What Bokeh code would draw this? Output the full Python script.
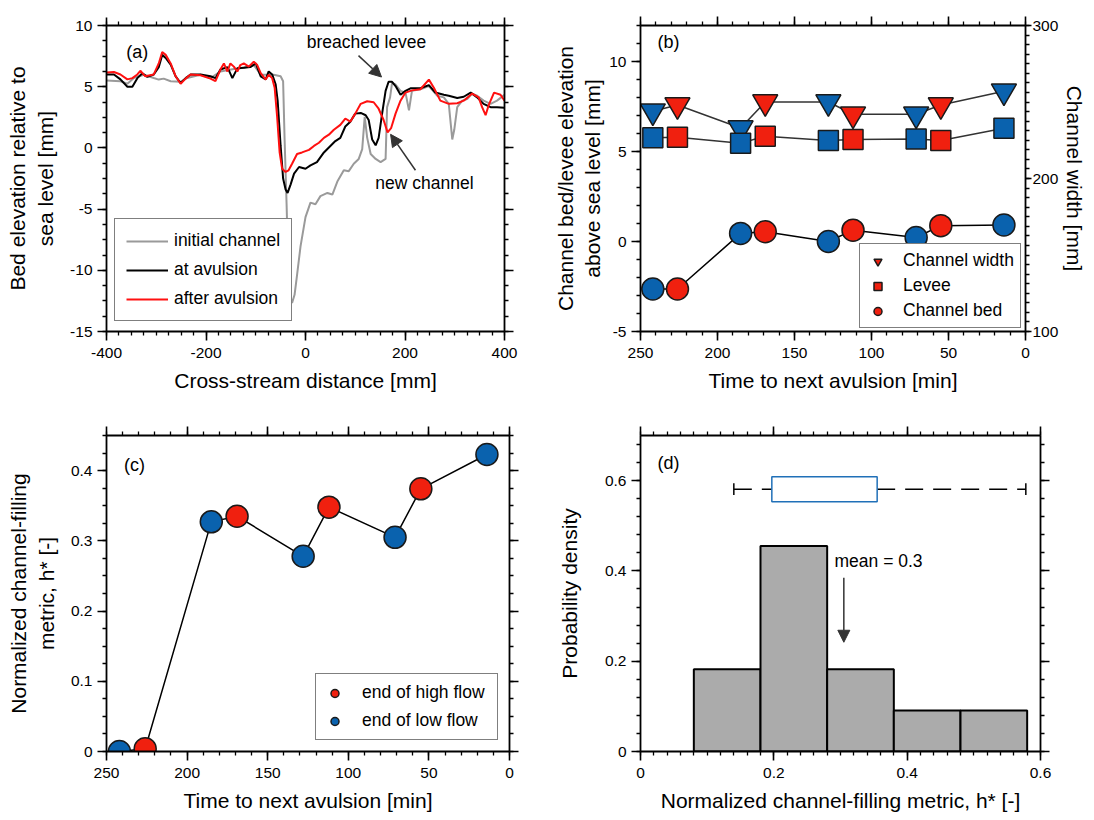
from bokeh.plotting import figure
from bokeh.models import (Range1d, LinearAxis, SingleIntervalTicker, Label, Arrow, NormalHead,
                          Legend, LegendItem)
from bokeh.layouts import column, row
from bokeh.embed import file_html
from bokeh.resources import INLINE

FONT = "Liberation Sans"

# ---------------- data: panel (a) cross-stream profiles ----------------
init_x = [-400, -372, -358, -345, -325, -305, -295, -285, -271, -251, -238, -211, -191, -171, -144,
          -124, -104, -90, -77, -64, -50, -45, -42, -38, -35, -31, -27, -22, -17, -10, 0, 10, 20,
          30, 44, 54, 64, 77, 87, 97, 107, 114, 119, 124, 131, 141, 151, 161, 164, 170, 174, 181,
          191, 201, 208, 214, 231, 248, 265, 278, 288, 295, 299, 305, 315, 325, 335, 345, 358, 372,
          385, 400]
init_y = [5.5, 5.45, 5.24, 5.71, 5.98, 5.71, 5.58, 5.66, 5.45, 5.4, 5.71, 5.98, 5.71, 6.24, 6.45,
          6.55, 6.77, 5.98, 5.98, 5.98, 5.85, 5.45, 0.69, -4.6, -9.37, -12.0, -12.67, -12.0, -10.4,
          -8.04, -5.66, -4.47, -4.6, -3.94, -3.68, -3.81, -2.75, -1.83, -1.9, -1.3, -0.9, -0.1,
          2.54, 0.82, -0.5, -0.9, -1.16, -0.9, 3.33, 4.13, 5.32, 5.18, 4.66, 4.52, 3.07, 4.66,
          4.79, 5.05, 4.26, 4.13, 3.6, 0.69, 1.48, 3.33, 3.86, 3.99, 4.44, 4.26, 3.86, 3.6, 3.86,
          4.34]

at_x = [-400, -385, -372, -358, -348, -338, -328, -318, -305, -295, -288, -281, -271, -261, -251,
        -241, -231, -211, -191, -181, -171, -157, -147, -137, -124, -111, -100, -90, -80, -74,
        -67, -60, -56, -50, -45, -40, -36, -30, -23, -13, 0, 10, 23, 37, 50, 60, 70, 80, 90, 100,
        111, 121, 127, 134, 141, 147, 154, 161, 167, 174, 181, 191, 201, 211, 231, 248, 261, 278,
        288, 305, 318, 332, 345, 358, 372, 385, 400]
at_y = [6.0, 6.0, 5.6, 5.0, 5.0, 5.7, 6.1, 5.8, 6.0, 6.6, 7.6, 7.35, 6.8, 5.85, 5.3, 5.7, 6.0, 6.0,
        5.85, 5.7, 6.4, 6.6, 5.7, 6.5, 6.55, 6.6, 6.9, 5.85, 5.6, 6.25, 6.0, 5.2, 3.86, 0.16, -2.5,
        -3.4, -3.68, -3.0, -2.1, -1.56, -1.7, -1.43, -1.16, -0.37, 0.16, 0.56, 0.82, 1.75, 2.14,
        2.8, 2.86, 2.67, 2.28, 0.69, 0.21, 0.82, 2.8, 4.66, 5.4, 5.4, 5.05, 4.34, 4.66, 4.87,
        4.87, 5.13, 4.52, 4.34, 4.26, 4.07, 4.18, 4.52, 4.13, 3.6, 3.33, 3.33, 3.28]

after_x = [-400, -385, -372, -358, -348, -338, -332, -322, -305, -295, -288, -281, -271, -261,
           -251, -241, -231, -211, -191, -181, -171, -164, -157, -151, -144, -137, -131, -124,
           -114, -104, -97, -90, -80, -74, -67, -62, -57, -52, -47, -40, -34, -27, -17, -7, 7,
           17, 27, 37, 47, 57, 70, 80, 90, 100, 111, 124, 137, 147, 157, 165, 172, 181, 191, 201,
           214, 231, 248, 258, 271, 288, 305, 318, 335, 348, 355, 362, 368, 379, 392, 400]
after_y = [6.16, 6.2, 6.0, 5.6, 5.7, 6.0, 6.3, 5.85, 6.0, 6.9, 7.83, 7.6, 6.9, 5.85, 5.24, 5.66,
           6.0, 5.93, 5.66, 5.45, 6.4, 6.9, 6.24, 6.9, 6.64, 6.24, 6.77, 6.9, 6.64, 7.04, 6.77,
           6.11, 5.58, 5.98, 5.7, 4.92, 2.54, -0.37, -1.7, -1.96, -1.83, -1.3, -0.5, -0.37,
           -0.16, 0.16, 0.42, 0.82, 1.08, 1.48, 1.88, 2.4, 2.14, 2.8, 3.6, 3.81, 3.73, 3.2, 2.28,
           1.27, 1.61, 2.8, 3.86, 4.52, 4.7, 4.79, 5.58, 4.92, 3.86, 3.6, 3.65, 3.86, 4.44, 4.13,
           3.33, 2.67, 3.47, 4.52, 4.34, 3.86]

# ---------------- data: panels (b), (c) ----------------
time_to_avulsion = [242, 226, 185, 169, 128, 112, 71, 55, 14]
flow_state = ["low", "high", "low", "high", "low", "high", "low", "high", "low"]
channel_width = [244, 248, 233, 250, 250, 242, 242, 248, 257]
levee_elev = [5.76, 5.79, 5.46, 5.85, 5.61, 5.67, 5.70, 5.61, 6.29]
bed_elev = [-2.64, -2.64, 0.45, 0.54, 0.00, 0.63, 0.22, 0.88, 0.92]
h_star = [0.0, 0.004, 0.327, 0.335, 0.278, 0.348, 0.305, 0.374, 0.423]

# ---------------- data: panel (d) ----------------
bin_edges = [0.08, 0.18, 0.28, 0.38, 0.48, 0.58]
density = [0.182, 0.455, 0.182, 0.091, 0.091]
whisker_low, q1, q3, whisker_high = 0.14, 0.197, 0.355, 0.578
h_mean = 0.3

RED = "#f0200f"
BLUE = "#0a62ae"
EDGE = "#1a1a1a"


def subset(vals, state):
    return [v for v, s in zip(vals, flow_state) if s == state]


def style_axis(ax, interval, minor, labels=True, tick_out=9, label=None, standoff=10,
               label_standoff=5, overrides=None):
    ax.ticker = SingleIntervalTicker(interval=interval, num_minor_ticks=minor)
    ax.axis_line_width = 1.8
    ax.axis_line_color = "black"
    ax.major_tick_in = 0
    ax.major_tick_out = tick_out
    ax.minor_tick_in = 0
    ax.minor_tick_out = 4
    ax.major_tick_line_width = 1.6
    ax.minor_tick_line_width = 1.3
    ax.major_tick_line_color = "black"
    ax.minor_tick_line_color = "black"
    ax.major_label_text_font = FONT
    ax.major_label_text_font_size = "15.5px"
    if labels:
        ax.major_label_text_color = "black"
        ax.major_label_standoff = label_standoff
    else:
        ax.major_label_text_color = None
        ax.major_label_standoff = 0
    ax.axis_label_text_font = FONT
    ax.axis_label_text_font_size = "21px"
    ax.axis_label_text_font_style = "normal"
    ax.axis_label_text_color = "black"
    ax.axis_label_standoff = standoff
    if label is not None:
        ax.axis_label = label
    if overrides:
        ax.major_label_overrides = overrides
    return ax


def make_fig(w, h, bl, br, bt, bb, xr, yr):
    p = figure(width=w, height=h, x_range=xr, y_range=yr, output_backend="svg",
               toolbar_location=None, min_border_left=bl, min_border_right=br,
               min_border_top=bt, min_border_bottom=bb, x_axis_location=None,
               y_axis_location=None)
    p.outline_line_color = None
    p.background_fill_color = "white"
    p.border_fill_color = "white"
    for g in p.grid:
        g.visible = False
    return p


def txt(p, x, y, text, align="center", size="17.5px"):
    p.add_layout(Label(x=x, y=y, text=text, text_align=align, text_baseline="middle",
                       text_font=FONT, text_font_size=size, text_color="black"))


def arrow(p, x0, y0, x1, y1):
    p.add_layout(Arrow(end=NormalHead(size=12, fill_color="#333333", line_color="#333333"),
                       x_start=x0, y_start=y0, x_end=x1, y_end=y1,
                       line_color="#333333", line_width=1.5))


def legend(p, items, loc, **kw):
    lg = Legend(items=items, location=loc, margin=0, border_line_color="black",
                border_line_width=1.5, background_fill_color="white", background_fill_alpha=1,
                label_text_font=FONT, label_text_font_size="17.5px", label_text_color="black",
                **kw)
    p.add_layout(lg)


# ================= panel (a) =================
pa = make_fig(535, 410, 106, 31, 16, 79, Range1d(-400, 400), Range1d(-15, 10))
pa.add_layout(style_axis(LinearAxis(), 200, 8, label="Cross-stream distance [mm]", standoff=8,
                         label_standoff=7, overrides={-400: "-400", -200: "-200"}), "below")
pa.add_layout(style_axis(LinearAxis(), 200, 8, labels=False, tick_out=8), "above")
pa.add_layout(style_axis(LinearAxis(), 5, 4, label="Bed elevation relative to\nsea level [mm]",
                         overrides={-5: "-5", -10: "-10", -15: "-15"}), "left")
pa.add_layout(style_axis(LinearAxis(), 5, 4, labels=False), "right")

r_init = pa.line(init_x, init_y, line_color="#9a9a9a", line_width=2)
r_at = pa.line(at_x, at_y, line_color="black", line_width=2)
r_after = pa.line(after_x, after_y, line_color="#ff1010", line_width=2)

legend(pa, [LegendItem(label="initial channel", renderers=[r_init]),
            LegendItem(label="at avulsion", renderers=[r_at]),
            LegendItem(label="after avulsion", renderers=[r_after])],
       (8, 10), padding=11, spacing=8, glyph_width=42, glyph_height=20, label_height=20,
       label_standoff=6)

txt(pa, -338, 7.86, "(a)", size="18px")
txt(pa, 122.6, 8.65, "breached levee")
arrow(pa, 106.5, 7.54, 152.8, 5.79)
txt(pa, 239, -2.86, "new channel")
arrow(pa, 221, -1.83, 171, 1.11)

# ================= panel (b) =================
pb = make_fig(557, 410, 105, 67, 25, 79, Range1d(250, 0), Range1d(-5, 12))
pb.extra_y_ranges = {"w": Range1d(100, 300)}
pb.add_layout(style_axis(LinearAxis(), 50, 5, label="Time to next avulsion [min]", standoff=8,
                         label_standoff=7), "below")
pb.add_layout(style_axis(LinearAxis(), 50, 5, labels=False), "above")
pb.add_layout(style_axis(LinearAxis(), 5, 5, label="Channel bed/levee elevation\nabove sea level [mm]",
                         standoff=2, overrides={-5: "-5"}), "left")
ax_w = style_axis(LinearAxis(y_range_name="w"), 100, 16, label="Channel width [mm]", tick_out=6,
                  standoff=2, label_standoff=1)
pb.add_layout(ax_w, "right")

pb.line(time_to_avulsion, channel_width, y_range_name="w", line_color="#333333", line_width=1.5)
pb.line(time_to_avulsion, levee_elev, line_color="#333333", line_width=1.5)
pb.line(time_to_avulsion, bed_elev, line_color="black", line_width=1.5)

tri = {}
sq = {}
ci = {}
for state, col in (("low", BLUE), ("high", RED)):
    tri[state] = pb.scatter(subset(time_to_avulsion, state), subset(channel_width, state),
                            y_range_name="w", marker="inverted_triangle", size=25,
                            fill_color=col, line_color=EDGE, line_width=1.5)
    sq[state] = pb.scatter(subset(time_to_avulsion, state), subset(levee_elev, state),
                           marker="square", size=20, fill_color=col, line_color=EDGE,
                           line_width=1.5)
    ci[state] = pb.scatter(subset(time_to_avulsion, state), subset(bed_elev, state),
                           marker="circle", size=22, fill_color=col, line_color=EDGE,
                           line_width=1.5)

legend(pb, [LegendItem(label="Channel width", renderers=[tri["high"]]),
            LegendItem(label="Levee", renderers=[sq["high"]]),
            LegendItem(label="Channel bed", renderers=[ci["high"]])],
       (219, 3), padding=6, spacing=4, glyph_width=23, glyph_height=20, label_height=20,
       label_standoff=14, label_width=111)
txt(pb, 231.8, 11.1, "(b)", size="18px")

# ================= panel (c) =================
pc = make_fig(535, 408, 106, 26, 23, 67, Range1d(250, 0), Range1d(0, 0.45))
pc.add_layout(style_axis(LinearAxis(), 50, 5, label="Time to next avulsion [min]", standoff=8,
                         label_standoff=7), "below")
pc.add_layout(style_axis(LinearAxis(), 50, 5, labels=False), "above")
pc.add_layout(style_axis(LinearAxis(), 0.1, 4, label="Normalized channel-filling\nmetric, h* [-]",
                         overrides={0: "0"}), "left")
pc.add_layout(style_axis(LinearAxis(), 0.1, 4, labels=False), "right")

pc.line(time_to_avulsion, h_star, line_color="black", line_width=1.5)
c_high = pc.scatter(subset(time_to_avulsion, "high"), subset(h_star, "high"), marker="circle",
                    size=22, fill_color=RED, line_color=EDGE, line_width=1.5)
c_low = pc.scatter(subset(time_to_avulsion, "low"), subset(h_star, "low"), marker="circle",
                   size=22, fill_color=BLUE, line_color=EDGE, line_width=1.5)
legend(pc, [LegendItem(label="end of high flow", renderers=[c_high]),
            LegendItem(label="end of low flow", renderers=[c_low])],
       (209, 11), padding=8, spacing=7, glyph_width=21, glyph_height=20, label_height=20,
       label_standoff=17, label_width=127)
txt(pc, 232.6, 0.4075, "(c)", size="18px")

# ================= panel (d) =================
pd_ = make_fig(557, 408, 105, 52, 25, 66, Range1d(0, 0.60001), Range1d(0, 0.70001))
pd_.add_layout(style_axis(LinearAxis(), 0.2, 10, label="Normalized channel-filling metric, h* [-]",
                          standoff=8, label_standoff=7, overrides={0: "0"}), "below")
pd_.add_layout(style_axis(LinearAxis(), 0.2, 10, labels=False), "above")
pd_.add_layout(style_axis(LinearAxis(), 0.2, 5, label="Probability density", standoff=21,
                          overrides={0: "0"}), "left")
pd_.add_layout(style_axis(LinearAxis(), 0.2, 5, labels=False), "right")

pd_.quad(left=bin_edges[:-1], right=bin_edges[1:], bottom=0, top=density,
         fill_color="#ababab", line_color="black", line_width=2)

box_y, box_half, cap_half = 0.581, 0.0275, 0.013
pd_.segment(x0=[whisker_low, q3], y0=[box_y, box_y], x1=[q1, whisker_high], y1=[box_y, box_y],
            line_color="black", line_width=1.5, line_dash="18 10")
pd_.segment(x0=[whisker_low, whisker_high], y0=[box_y - cap_half] * 2,
            x1=[whisker_low, whisker_high], y1=[box_y + cap_half] * 2,
            line_color="black", line_width=1.5)
pd_.quad(left=[q1], right=[q3], bottom=[box_y - box_half], top=[box_y + box_half],
         fill_color="white", line_color="#2070b8", line_width=1.5)

pd_.add_layout(Label(x=h_mean - 0.009, y=0.423, text="mean = %.1f" % h_mean, text_align="left",
                     text_baseline="middle", text_font=FONT, text_font_size="17.5px",
                     text_color="black"))
arrow(pd_, h_mean + 0.005, 0.385, h_mean + 0.005, 0.242)
txt(pd_, 0.042, 0.638, "(d)", size="18px")

layout = column(row(pa, pb, spacing=0), row(pc, pd_, spacing=0), spacing=0)
open("out.html", "w").write(file_html(layout, INLINE))
